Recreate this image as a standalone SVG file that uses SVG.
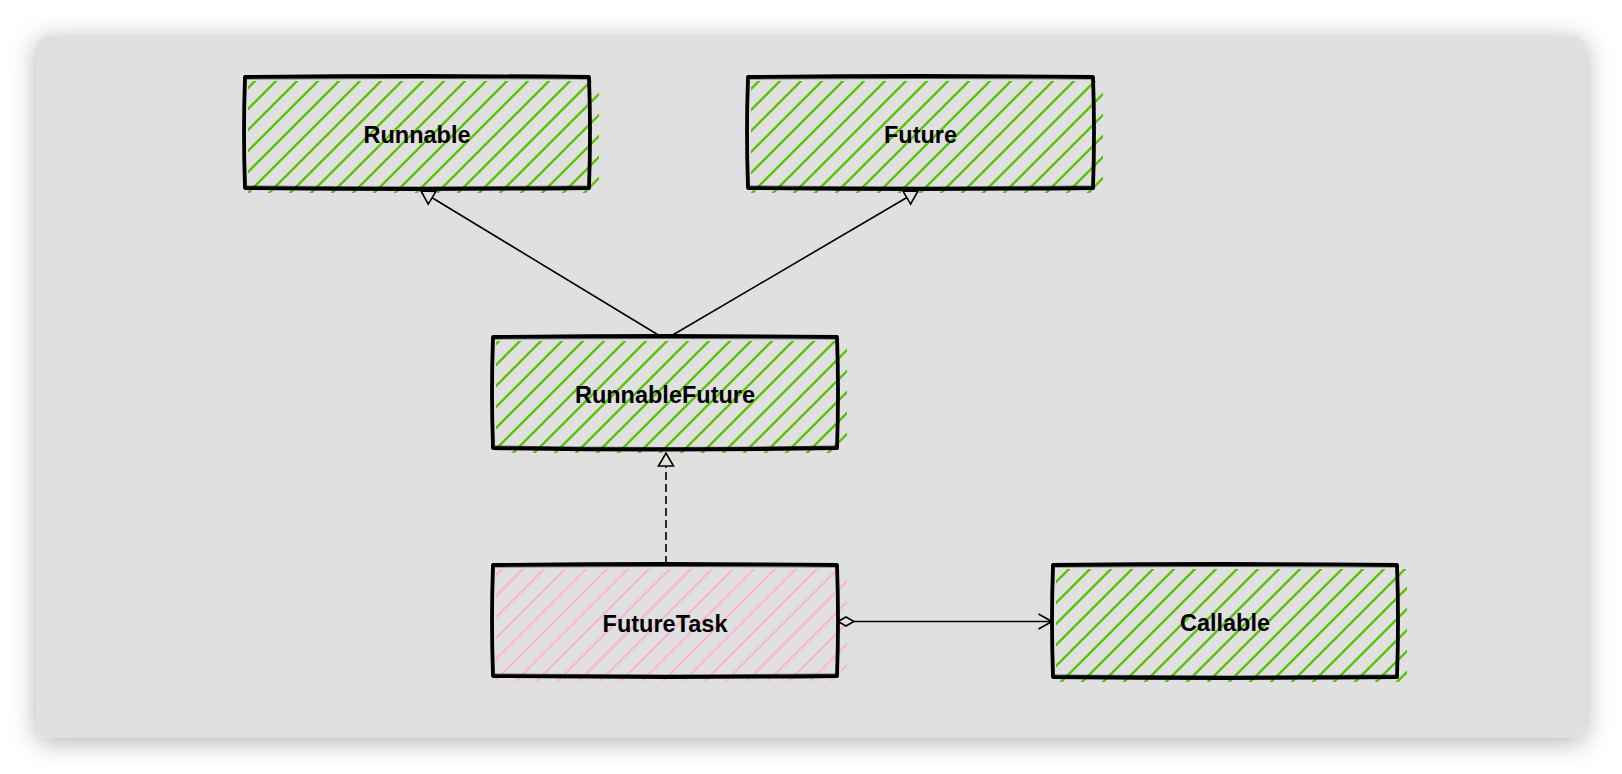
<svg xmlns="http://www.w3.org/2000/svg" width="1622" height="774" viewBox="0 0 1622 774">
<defs>
<style>
.hatch-g{fill:url(#hg);}
.hatch-p{fill:url(#hp);}
.border{fill:none;stroke:#000;stroke-width:3.8;stroke-linejoin:round;stroke-linecap:round;}
.border2{fill:none;stroke:#000;stroke-width:1;opacity:0.6;}
.label{font-family:"Liberation Sans",Arial,sans-serif;font-weight:bold;font-size:23.5px;fill:#000;text-anchor:middle;}
.conn{fill:none;stroke:#000;stroke-width:1.6;}
.dash{stroke-dasharray:8 4;}
</style>
<filter id="shadow" x="-10%" y="-10%" width="120%" height="125%">
<feDropShadow dx="0" dy="4" stdDeviation="13" flood-color="#000" flood-opacity="0.3"/>
</filter>
<pattern id="hg" patternUnits="userSpaceOnUse" width="21" height="21">
<path d="M-5,5 L5,-5 M0,21 L21,0 M16,26 L26,16" stroke="#5cc203" stroke-width="2.4"/>
</pattern>
<pattern id="hp" patternUnits="userSpaceOnUse" width="21" height="21">
<path d="M-5,5 L5,-5 M0,21 L21,0 M16,26 L26,16" stroke="#f9b5d6" stroke-width="2.2"/>
</pattern>
<marker id="tri" markerUnits="userSpaceOnUse" viewBox="0 0 16 18" refX="14" refY="9" markerWidth="16" markerHeight="18" orient="auto">
<path d="M1,1.5 L14,9 L1,16.5 Z" fill="#e0e0e0" stroke="#000" stroke-width="1.6" stroke-linejoin="miter"/>
</marker>
<marker id="dia" markerUnits="userSpaceOnUse" viewBox="0 0 18 12" refX="1" refY="6" markerWidth="18" markerHeight="12" orient="auto">
<path d="M1,6 L9,1.5 L17,6 L9,10.5 Z" fill="#e0e0e0" stroke="#000" stroke-width="1.6"/>
</marker>
<marker id="open" markerUnits="userSpaceOnUse" viewBox="0 0 16 18" refX="14.5" refY="9" markerWidth="16" markerHeight="18" orient="auto">
<path d="M1,1.5 L14.5,9 L1,16.5" fill="none" stroke="#000" stroke-width="1.6"/>
</marker>
</defs>
<rect width="1622" height="774" fill="#ffffff"/>
<rect x="36" y="36" width="1550" height="702" rx="13" fill="#e0e0e0" filter="url(#shadow)"/>

<g id="node-runnable">
<rect class="hatch-g" x="248" y="81" width="351" height="112"/>
<path class="border" d="M245,77 Q420,75 589,77 Q591,132 589,188 Q417,190 245,188 Q243,132 245,77 Z"/>
<path class="border2" d="M243,79 Q420,78 591,79 M588,75 Q592,132 590,190 M247,186 Q417,188 590,186 M246,75 Q244,132 246,190"/>
<text class="label" x="417" y="143">Runnable</text>
</g>

<g id="node-future">
<rect class="hatch-g" x="751" y="81" width="352" height="112"/>
<path class="border" d="M748,77 Q920,75 1093,77 Q1095,132 1093,188 Q920,190 748,188 Q746,132 748,77 Z"/>
<path class="border2" d="M746,79 Q920,78 1095,79 M1092,75 Q1096,132 1094,190 M750,186 Q920,188 1094,186 M749,75 Q747,132 749,190"/>
<text class="label" x="920.5" y="143">Future</text>
</g>

<g id="node-runnablefuture">
<rect class="hatch-g" x="496" y="341" width="351" height="112"/>
<path class="border" d="M493,337 Q665,335 837,337 Q839,392 837,448 Q665,451 493,448 Q491,392 493,337 Z"/>
<path class="border2" d="M491,339 Q665,338 839,339 M836,335 Q840,392 838,450 M495,446 Q665,449 838,446 M494,335 Q492,392 494,450"/>
<text class="label" x="665" y="403">RunnableFuture</text>
</g>

<g id="node-futuretask">
<rect class="hatch-p" x="496" y="569" width="351" height="112"/>
<path class="border" d="M493,565 Q665,563 837,565 Q839,620 837,676 Q665,678 493,676 Q491,620 493,565 Z"/>
<path class="border2" d="M491,567 Q665,566 839,567 M836,563 Q840,620 838,678 M495,674 Q665,676 838,674 M494,563 Q492,620 494,678"/>
<text class="label" x="665" y="632">FutureTask</text>
</g>

<g id="node-callable">
<rect class="hatch-g" x="1056" y="569" width="351" height="113"/>
<path class="border" d="M1053,565 Q1225,563 1397,565 Q1399,621 1397,677 Q1225,679 1053,677 Q1051,621 1053,565 Z"/>
<path class="border2" d="M1051,567 Q1225,566 1399,567 M1396,563 Q1400,621 1398,679 M1055,675 Q1225,677 1398,675 M1054,563 Q1052,621 1054,679"/>
<text class="label" x="1225" y="631">Callable</text>
</g>

<g id="connectors">
<path class="conn" d="M660,336 L421,191" marker-end="url(#tri)"/>
<path class="conn" d="M671,336 L918,191" marker-end="url(#tri)"/>
<path class="conn dash" d="M666,564 L666,453" marker-end="url(#tri)"/>
<path class="conn" d="M838,621.5 L1052,621.5" marker-start="url(#dia)" marker-end="url(#open)"/>
</g>
</svg>
